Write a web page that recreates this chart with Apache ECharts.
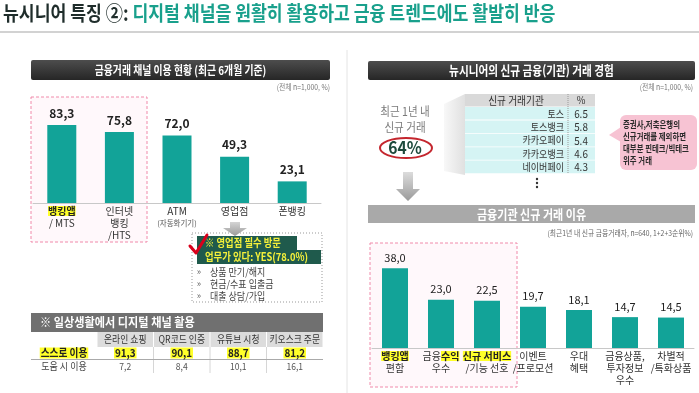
<!DOCTYPE html>
<html><head><meta charset="utf-8">
<script src="https://cdn.jsdelivr.net/npm/echarts@6/dist/echarts.min.js"></script>
<style>html,body{margin:0;padding:0;background:#fff}#c{width:699px;height:393px}</style>
</head><body><div id="c"></div>
<script>
const FONT = '"Noto Sans CJK KR", "Noto Sans", sans-serif';

const titleLead = '뉴시니어 특징 ②: ';
const titleMain = '디지털 채널을 원활히 활용하고 금융 트렌드에도 활발히 반응';
const leftPanelTitle = '금융거래 채널 이용 현황 (최근 6개월 기준)';
const rightPanelTitle = '뉴시니어의 신규 금융(기관) 거래 경험';
const reasonPanelTitle = '금융기관 신규 거래 이유';
const baseNote = '(전체 n=1,000, %)';
const reasonNote = '(최근1년 내 신규 금융거래자, n=640, 1+2+3순위%)';

const channelCategories = ['뱅킹앱\n/ MTS', '인터넷\n뱅킹\n/HTS', 'ATM\n(자동화기기)', '영업점', '폰뱅킹'];
const channelValues = [83.3, 75.8, 72.0, 49.3, 23.1];
const channelHighlights = ['뱅킹앱'];

const branchVisitYes = 78.0;
const branchTasks = ['상품 만기/해지', '현금/수표 입출금', '대출 상담/가입'];

const digitalTitle = '※ 일상생활에서 디지털 채널 활용';
const digitalColumns = ['온라인 쇼핑', 'QR코드 인증', '유튜브 시청', '키오스크 주문'];
const digitalRowLabels = ['스스로 이용', '도움 시 이용'];
const digitalSelf = [91.3, 90.1, 88.7, 81.2];
const digitalHelped = [7.2, 8.4, 10.1, 16.1];

const newDealLabel = ['최근 1년 내', '신규 거래'];
const newDealShare = 64;
const institutionHeader = ['신규 거래기관', '%'];
const institutionNames = ['토스', '토스뱅크', '카카오페이', '카카오뱅크', '네이버페이'];
const institutionValues = [6.5, 5.8, 5.4, 4.6, 4.3];
const bubbleLines = ['증권사,저축은행의', '신규거래를 제외하면', '대부분 핀테크/빅테크', '위주 거래'];

const reasonCategories = ['뱅킹앱\n편함', '금융수익\n우수', '신규 서비스\n/기능 선호', '이벤트\n/프로모션', '우대\n혜택', '금융상품,\n투자정보\n우수', '차별적\n/특화상품'];
const reasonValues = [38.0, 23.0, 22.5, 19.7, 18.1, 14.7, 14.5];
const reasonHighlights = ['뱅킹앱', '수익', '신규 서비스'];

const comma = v => v.toFixed(1).replace('.', ',');
const TEAL = '#12a398';
const YELLOW = '#ffff2a';

function labelFmt(highlights) {
  return function (v) {
    return v.split('\n').map(line => {
      if (line.startsWith('(')) return '{s|' + line + '}';
      for (const h of highlights) {
        const i = line.indexOf(h);
        if (i >= 0) {
          const pre = line.slice(0, i), post = line.slice(i + h.length);
          return (pre ? '{n|' + pre + '}' : '') + '{hl|' + h + '}' + (post ? '{n|' + post + '}' : '');
        }
      }
      return '{n|' + line + '}';
    }).join('\n');
  };
}
const labelRich = {
  n: {fontSize: 10, lineHeight: 12, color: '#333', fontFamily: FONT},
  hl: {fontSize: 10, lineHeight: 12, color: '#222', fontWeight: 'bold', backgroundColor: YELLOW, fontFamily: FONT},
  s: {fontSize: 7.5, lineHeight: 12, color: '#555', fontFamily: FONT}
};

const G = [];
function txt(x, y, text, o = {}) {
  const st = {text, fill: o.fill || '#333', fontSize: o.size || 10, fontWeight: o.bold ? 'bold' : 'normal',
    fontFamily: FONT, align: o.align || 'center', verticalAlign: 'middle'};
  if (o.bg) { st.backgroundColor = o.bg; st.padding = [0, 1]; }
  if (o.rich) st.rich = o.rich;
  G.push({type: 'text', x, y, scaleX: o.sx === undefined ? 0.86 : o.sx, z: 20, style: st});
}
function rect(x, y, w, h, style, z = 1, r = 0) {
  G.push({type: 'rect', z, shape: {x, y, width: w, height: h, r}, style});
}
function poly(points, style, z = 3) { G.push({type: 'polygon', z, shape: {points}, style}); }
function line(x1, y1, x2, y2, style, z = 3) { G.push({type: 'line', z, shape: {x1, y1, x2, y2}, style}); }
const grad = (a, b, horiz) => new echarts.graphic.LinearGradient(0, 0, horiz ? 1 : 0, horiz ? 0 : 1, [{offset: 0, color: a}, {offset: 1, color: b}]);

// title
txt(3, 13, '{a|' + titleLead + '}{b|' + titleMain + '}', {align: 'left', sx: 0.86, rich: {
  a: {fill: '#1f2d2b', fontSize: 20, fontWeight: 'bold', fontFamily: FONT},
  b: {fill: '#19a08c', fontSize: 20, fontWeight: 'bold', fontFamily: FONT}}});
rect(0, 31, 699, 2, {fill: '#d2d2d2'});
line(347, 50, 347, 393, {stroke: '#e4e4e4', lineWidth: 1});

// panel headers
rect(31, 60, 299, 20, {fill: grad('#4d4d4d', '#262626')}, 1, 2);
txt(180.5, 70, leftPanelTitle, {fill: '#fff', size: 12, bold: true, sx: 0.82});
rect(368, 61, 327, 19, {fill: grad('#4d4d4d', '#262626')}, 1, 2);
txt(531.5, 70.5, rightPanelTitle, {fill: '#fff', size: 13, bold: true, sx: 0.82});
txt(330, 87, baseNote, {align: 'right', size: 8, fill: '#777', sx: 0.85});
txt(693, 87, baseNote, {align: 'right', size: 8, fill: '#777', sx: 0.85});

// left highlight box
rect(31, 97, 116, 145, {fill: 'rgba(255,236,243,0.35)', stroke: '#f08aaa', lineWidth: 1, lineDash: [3, 2]}, 0);

// branch annotation
poly([[230, 222], [240, 222], [240, 228], [247, 228], [235, 236], [223, 228], [230, 228]], {fill: grad('#d4d4d4', '#9a9a9a')});
rect(192, 233, 130, 69, {fill: '#fff', stroke: '#999', lineWidth: 1, lineDash: [1, 2]}, 1);
rect(197, 236, 100, 14, {fill: '#1f5a4c'}, 2);
rect(197, 250, 124, 14, {fill: '#1f5a4c'}, 2);
txt(205, 243, '※ 영업점 필수 방문', {align: 'left', fill: '#f4f03a', size: 11, bold: true, sx: 0.85});
txt(205, 257, '업무가 있다: YES(' + branchVisitYes.toFixed(1) + '%)', {align: 'left', fill: '#f4f03a', size: 11, bold: true, sx: 0.85});
G.push({type: 'polyline', z: 25, shape: {points: [[190, 246], [196, 253], [207, 235]]}, style: {stroke: '#d9001b', lineWidth: 3, lineCap: 'round', lineJoin: 'round', fill: null}});
branchTasks.forEach((t, i) => {
  txt(199, 272 + i * 12, '»', {size: 9, fill: '#666', sx: 1});
  txt(210, 272 + i * 12, t, {align: 'left', size: 10, fill: '#444', sx: 0.9});
});

// digital usage table
rect(31, 313, 292, 19, {fill: '#707070'});
txt(40, 322.5, digitalTitle, {align: 'left', fill: '#fff', size: 12, bold: true, sx: 0.93});
const colStart = 97, colW = 56.5;
digitalColumns.forEach((c, i) => {
  rect(colStart + i * colW + 0.5, 332, colW - 1, 15, {fill: '#dcdcdc'});
  txt(colStart + i * colW + colW / 2, 339.5, c, {size: 10, fill: '#333', sx: 0.88});
  if (i > 0) line(colStart + i * colW, 347, colStart + i * colW, 373, {stroke: '#d6d6d6', lineWidth: 1});
});
txt(64, 353, digitalRowLabels[0], {size: 11, bold: true, fill: '#222', bg: YELLOW, sx: 0.88});
txt(64, 366, digitalRowLabels[1], {size: 10, fill: '#444', sx: 0.9});
digitalSelf.forEach((v, i) => txt(colStart + i * colW + colW / 2, 353, comma(v), {size: 11, bold: true, fill: '#222', bg: YELLOW, sx: 0.9}));
digitalHelped.forEach((v, i) => txt(colStart + i * colW + colW / 2, 366, comma(v), {size: 9.5, fill: '#555', sx: 0.9}));
line(31, 359.5, 323, 359.5, {stroke: '#aaa', lineWidth: 1});

// right top: new deals
txt(405, 111, newDealLabel[0], {size: 12, fill: '#7a7a7a', sx: 0.88});
txt(405, 127, newDealLabel[1], {size: 12, fill: '#7a7a7a', sx: 0.88});
G.push({type: 'ellipse', z: 5, shape: {cx: 406, cy: 148, rx: 26, ry: 10}, style: {fill: null, stroke: '#c4262e', lineWidth: 2}});
txt(405, 148, newDealShare + '%', {size: 17, bold: true, fill: '#1d4a3c', sx: 0.92});
poly([[403, 172], [413, 172], [413, 189], [420, 189], [408, 201], [396, 189], [403, 189]], {fill: grad('#dcdcdc', '#9a9a9a')});
poly([[444, 104], [465, 94], [465, 175], [444, 171]], {fill: grad('#f8f8f8', '#e0e0e0', true)}, 1);

const tX = 465, tW = 130, tSplit = 568;
rect(tX, 94, tW, 12.5, {fill: '#d9d9d9'});
txt(516, 100.5, institutionHeader[0], {size: 11, fill: '#333', sx: 0.88});
txt(581, 100.5, institutionHeader[1], {size: 10.5, fill: '#333', sx: 0.9});
const rowY0 = 107, rowH = 13.4;
institutionNames.forEach((n, i) => {
  const y = rowY0 + i * rowH;
  rect(tX, y, tW, rowH - 0.8, {fill: '#d5f4f4'});
  txt(564, y + rowH / 2, n, {align: 'right', size: 10.5, fill: '#333', sx: 0.86});
  txt(581, y + rowH / 2, institutionValues[i].toFixed(1), {size: 11, fill: '#333', sx: 0.9});
});
line(tSplit, 94, tSplit, rowY0 + institutionNames.length * rowH, {stroke: '#999', lineWidth: 1, lineDash: [1, 1]}, 4);
[179, 183, 187].forEach(y => G.push({type: 'circle', z: 5, shape: {cx: 537, cy: y, r: 1.2}, style: {fill: '#333'}}));

// bubble
rect(620, 115, 77, 55, {fill: '#f7c3d3'}, 1, 6);
poly([[621, 127], [609, 135], [621, 142]], {fill: '#f7c3d3'}, 1);
bubbleLines.forEach((t, i) => txt(623, 124 + i * 12, t, {align: 'left', size: 9.5, bold: true, fill: '#2a2a2a', sx: 0.78}));

// right bottom header
rect(368, 205, 327, 18, {fill: '#a9a9a9'});
txt(531.5, 214, reasonPanelTitle, {fill: '#fff', size: 13, bold: true, sx: 0.85});
txt(693, 233, reasonNote, {align: 'right', size: 8, fill: '#666', sx: 0.85});
rect(370, 243, 147, 144, {fill: 'rgba(255,236,243,0.35)', stroke: '#f08aaa', lineWidth: 1, lineDash: [3, 2]}, 0);

const chart = echarts.init(document.getElementById('c'), null, {renderer: 'canvas'});
const catAxis = (gi, data, hl) => ({
  type: 'category', gridIndex: gi, data,
  axisLine: {lineStyle: {color: '#c8c8c8', width: 1}},
  axisTick: {show: false},
  axisLabel: {interval: 0, margin: 2, formatter: labelFmt(hl), rich: labelRich, fontFamily: FONT}
});
chart.setOption({
  animation: false,
  backgroundColor: '#fff',
  textStyle: {fontFamily: FONT},
  grid: [
    {left: 33, width: 288, top: 109.4, height: 93.6},
    {left: 372, width: 322, top: 243, height: 105}
  ],
  xAxis: [catAxis(0, channelCategories, channelHighlights), catAxis(1, reasonCategories, reasonHighlights)],
  yAxis: [
    {type: 'value', gridIndex: 0, min: 0, max: 100, show: false},
    {type: 'value', gridIndex: 1, min: 0, max: 50, show: false}
  ],
  series: [
    {type: 'bar', xAxisIndex: 0, yAxisIndex: 0, data: channelValues, barWidth: 29, z: 5,
      itemStyle: {color: TEAL},
      label: {show: true, position: 'top', distance: 6, fontSize: 12, fontWeight: 'bold', color: '#222', fontFamily: FONT, formatter: p => comma(p.value)}},
    {type: 'bar', xAxisIndex: 1, yAxisIndex: 1, data: reasonValues, barWidth: 26, z: 5,
      itemStyle: {color: TEAL},
      label: {show: true, position: 'top', distance: 5, fontSize: 11, fontWeight: 'normal', color: '#222', fontFamily: FONT, formatter: p => comma(p.value)}}
  ],
  graphic: {elements: G}
});
</script></body></html>
